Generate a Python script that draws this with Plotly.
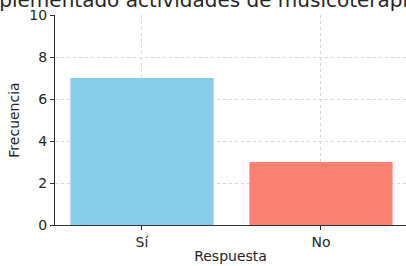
import plotly.graph_objects as go

categories = ["Sí", "No"]
values = [7, 3]
bar_colors = ["#87CEEB", "#FA8072"]
y_ticks = [0, 2, 4, 6, 8, 10]
title_text = "¿Ha implementado actividades de musicoterapia?"

fig = go.Figure()
fig.add_trace(go.Bar(x=[0, 1], y=values, width=0.8, marker=dict(color=bar_colors, line=dict(width=0))))

font = "DejaVu Sans, sans-serif"
fig.update_layout(
    width=406, height=266,
    margin=dict(l=55, r=0, t=15, b=41),
    plot_bgcolor="white", paper_bgcolor="white",
    showlegend=False,
    font=dict(family=font, size=14, color="#262626"),
    xaxis=dict(
        range=[-0.486, 1.475], tickmode="array", tickvals=[0, 1], ticktext=categories,
        showgrid=True, gridcolor="#d6d6d6", griddash="dot", gridwidth=1,
        showline=True, linecolor="#333333", linewidth=1,
        ticks="outside", ticklen=4, tickcolor="#333333",
        title=dict(text="Respuesta", font=dict(size=14), standoff=2),
        zeroline=False, layer="above traces", automargin=False,
    ),
    yaxis=dict(
        range=[0, 10], tickmode="array", tickvals=y_ticks,
        showgrid=True, gridcolor="#d6d6d6", griddash="dot", gridwidth=1,
        showline=True, linecolor="#333333", linewidth=1,
        ticks="outside", ticklen=4, tickcolor="#333333",
        title=dict(text="Frecuencia", font=dict(size=14), standoff=6),
        zeroline=False, layer="above traces", automargin=False,
    ),
    annotations=[dict(
        text=title_text, xref="paper", yref="paper", x=-0.362, y=1.0, yshift=1,
        xanchor="left", yanchor="bottom", showarrow=False,
        font=dict(size=20, color="#262626"),
    )],
)

fig.write_html(
    "out.html",
    config={"displayModeBar": False, "staticPlot": True},
    post_script="document.body.style.margin='0';document.body.style.overflow='hidden';",
)
